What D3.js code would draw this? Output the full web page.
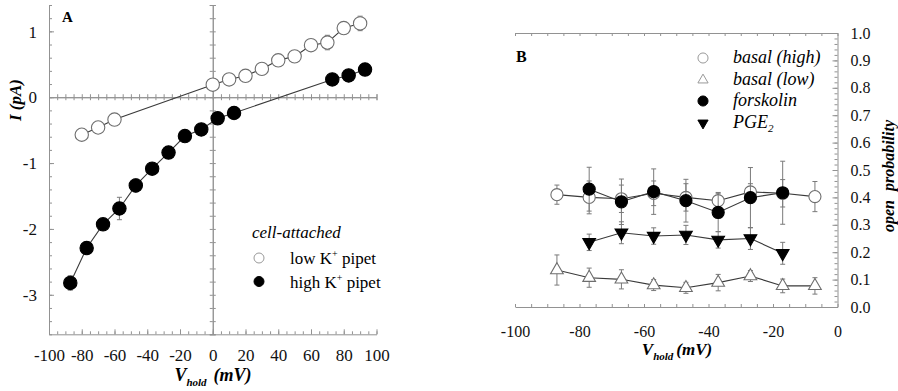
<!DOCTYPE html>
<html><head><meta charset="utf-8">
<script src="https://cdn.jsdelivr.net/npm/d3@7"></script>
<style>
body{margin:0;background:#fff}
svg{display:block}
svg text{font-family:"Liberation Serif","Times New Roman",serif !important}
</style>
</head><body>
<svg id="fig" width="898" height="391"></svg>
<script>
// ---- Panel A: single-channel current vs holding potential ----
const ivLowV   = [-80, -70, -60, 0, 10, 20, 30, 40, 50, 60, 70, 80, 90];
const ivLowI   = [-0.57, -0.46, -0.34, 0.19, 0.27, 0.325, 0.43, 0.56, 0.62, 0.79, 0.83, 1.05, 1.12];
const ivLowErr = [0.03, 0.03, 0.03, 0.03, 0.03, 0.03, 0.03, 0.03, 0.03, 0.04, 0.11, 0.04, 0.11];
const ivHighV   = [-87, -77, -67, -57, -47, -37, -27, -17, -7, 3, 13, 73, 83, 93];
const ivHighI   = [-2.82, -2.29, -1.93, -1.69, -1.34, -1.085, -0.84, -0.59, -0.49, -0.32, -0.24, 0.27, 0.33, 0.42];
const ivHighErr = [0.11, 0.05, 0.05, 0.17, 0.1, 0.05, 0.04, 0.04, 0.04, 0.04, 0.04, 0.03, 0.03, 0.03];
const ivXTicks = [-100, -80, -60, -40, -20, 0, 20, 40, 60, 80, 100];
const ivYTicks = [-3, -2, -1, 0, 1];
const ivLegend = ["low K", "high K"];

// ---- Panel B: open probability vs holding potential ----
const poV9 = [-87, -77, -67, -57, -47, -37, -27, -17, -7];
const poV7 = [-77, -67, -57, -47, -37, -27, -17];
const basalHigh    = [0.41, 0.40, 0.395, 0.415, 0.40, 0.388, 0.42, 0.415, 0.403];
const basalHighErr = [0.035, 0.06, 0.05, 0.045, 0.05, 0.03, 0.03, 0.05, 0.055];
const basalLow     = [0.135, 0.107, 0.101, 0.08, 0.07, 0.089, 0.113, 0.077, 0.077];
const basalLowErr  = [0.055, 0.035, 0.035, 0.02, 0.02, 0.03, 0.02, 0.025, 0.03];
const forskolin    = [0.43, 0.384, 0.421, 0.388, 0.345, 0.399, 0.417];
const forskolinErr = [0.08, 0.083, 0.083, 0.078, 0.07, 0.11, 0.115];
const pge2         = [0.236, 0.271, 0.259, 0.263, 0.245, 0.25, 0.196];
const pge2Err      = [0.03, 0.04, 0.03, 0.035, 0.03, 0.04, 0.04];
const poXTicks = [-100, -80, -60, -40, -20, 0];
const poYTicks = [0, 0.1, 0.2, 0.3, 0.4, 0.5, 0.6, 0.7, 0.8, 0.9, 1.0];

const svg = d3.select("#fig");
const AXIS = "#929292", LINE = "#3a3a3a", OPEN = "#6e6e6e";

function styleAxis(g) {
  g.selectAll("path,line").attr("stroke", AXIS).attr("stroke-width", 1);
  g.selectAll("text").attr("fill", "#111");
  return g;
}
function seq(a, b, s) { return d3.range(a, b + s / 2, s); }
const minus = d => d < 0 ? "-" + Math.abs(d) : d;

// =================== Panel A ===================
const xA = d3.scaleLinear().domain([-100, 100]).range([49, 376.5]);
const yA = d3.scaleLinear().domain([-3.6, 1.4]).range([334.3, 5]);
const gA = svg.append("g");

// left axis (ticks pointing into the plot)
styleAxis(gA.append("g").attr("transform", `translate(${xA(-100)},0)`)
  .call(d3.axisLeft(yA).tickValues(seq(-3.6, 1.4, 0.2)).tickSizeInner(-3).tickSizeOuter(0).tickFormat("")));
const yLab = styleAxis(gA.append("g").attr("transform", `translate(${xA(-100)},0)`)
  .call(d3.axisLeft(yA).tickValues(ivYTicks).tickSizeInner(-5).tickSizeOuter(0).tickPadding(12).tickFormat(d3.format("d"))));
yLab.select(".domain").remove();
yLab.selectAll("text").attr("font-size", 17).attr("dy", "0.34em").text(minus);

// bottom axis
styleAxis(gA.append("g").attr("transform", `translate(0,${yA(-3.6)})`)
  .call(d3.axisBottom(xA).tickValues(seq(-100, 100, 5)).tickSizeInner(-3).tickSizeOuter(0).tickFormat("")));
const xLab = styleAxis(gA.append("g").attr("transform", `translate(0,${yA(-3.6)})`)
  .call(d3.axisBottom(xA).tickValues(ivXTicks).tickSizeInner(-5).tickSizeOuter(0).tickPadding(15)));
xLab.select(".domain").remove();
xLab.selectAll("text").attr("font-size", 17).attr("dy", "0.71em").text(minus);

// zero lines with crossing ticks
[d3.axisBottom, d3.axisTop].forEach(ax => styleAxis(gA.append("g")
  .attr("transform", `translate(0,${yA(0)})`)
  .call(ax(xA).tickValues(seq(-100, 100, 5)).tickSize(3).tickFormat(""))));
[d3.axisLeft, d3.axisRight].forEach(ax => styleAxis(gA.append("g")
  .attr("transform", `translate(${xA(0)},0)`)
  .call(ax(yA).tickValues(seq(-3.6, 1.4, 0.2)).tickSize(3).tickFormat(""))));

function drawSeries(g, x, y, xs, ys, es, opts) {
  const pts = xs.map((v, i) => ({ x: v, y: ys[i], e: es[i] }));
  g.append("path").datum(pts)
    .attr("fill", "none").attr("stroke", LINE).attr("stroke-width", 1.1)
    .attr("d", d3.line().x(d => x(d.x)).y(d => y(d.y)));
  const eb = g.append("g").attr("stroke", "#7a7a7a").attr("stroke-width", 1);
  pts.forEach(p => {
    eb.append("line").attr("x1", x(p.x)).attr("x2", x(p.x)).attr("y1", y(p.y - p.e)).attr("y2", y(p.y + p.e));
    [p.y - p.e, p.y + p.e].forEach(v => eb.append("line")
      .attr("x1", x(p.x) - 2.5).attr("x2", x(p.x) + 2.5).attr("y1", y(v)).attr("y2", y(v)));
  });
  g.append("g").selectAll("path").data(pts).join("path")
    .attr("transform", d => `translate(${x(d.x)},${y(d.y)})${opts.rot ? " rotate(180)" : ""}`)
    .attr("d", d3.symbol().type(opts.type).size(opts.size))
    .attr("fill", opts.fill).attr("stroke", opts.stroke).attr("stroke-width", 1.1);
}

drawSeries(gA, xA, yA, ivLowV, ivLowI, ivLowErr, { type: d3.symbolCircle, size: 140, fill: "#fff", stroke: OPEN });
drawSeries(gA, xA, yA, ivHighV, ivHighI, ivHighErr, { type: d3.symbolCircle, size: 140, fill: "#000", stroke: "#000" });

// panel letter and axis titles
gA.append("text").attr("x", 62).attr("y", 22).attr("font-size", 15).attr("font-weight", "bold").text("A");
gA.append("text").attr("transform", "translate(21,100) rotate(-90)").attr("text-anchor", "middle")
  .attr("font-size", 17).attr("font-weight", "bold").attr("font-style", "italic").text("I  (pA)");
function vholdLabel(g, cx, y, gap, size) {
  const t = g.append("text").attr("x", cx).attr("y", y).attr("text-anchor", "middle")
    .attr("font-weight", "bold").attr("font-style", "italic").attr("font-size", size);
  t.append("tspan").text("V");
  t.append("tspan").attr("font-size", 11).attr("dy", 5).text("hold");
  t.append("tspan").attr("dy", -5).attr("dx", gap).text("(mV)");
}
vholdLabel(gA, 213, 381, 7, 18);

// legend A
const lgA = gA.append("g").attr("font-size", 17);
lgA.append("text").attr("x", 252).attr("y", 238).attr("font-style", "italic").text("cell-attached");
[{ y: 258, fill: "#fff", stroke: "#999", t: ivLegend[0] }, { y: 281.5, fill: "#000", stroke: "#000", t: ivLegend[1] }]
  .forEach(r => {
    lgA.append("circle").attr("cx", 259).attr("cy", r.y).attr("r", 5).attr("fill", r.fill).attr("stroke", r.stroke);
    const t = lgA.append("text").attr("x", 290).attr("y", r.y + 6);
    t.append("tspan").text(r.t);
    t.append("tspan").attr("font-size", 10).attr("dy", -7).text("+");
    t.append("tspan").attr("dy", 7).text(" pipet");
  });

// =================== Panel B ===================
const xB = d3.scaleLinear().domain([-100, 0]).range([515, 837.5]);
const yB = d3.scaleLinear().domain([0, 1]).range([307, 33]);
const gB = svg.append("g");

// top and bottom frame lines with inward ticks
styleAxis(gB.append("g").attr("transform", `translate(0,${yB(1)})`)
  .call(d3.axisTop(xB).tickValues(seq(-100, 0, 5)).tickSizeInner(-3).tickSizeOuter(0).tickFormat("")));
styleAxis(gB.append("g").attr("transform", `translate(0,${yB(0)})`)
  .call(d3.axisBottom(xB).tickValues(seq(-100, 0, 5)).tickSizeInner(-3).tickSizeOuter(0).tickFormat("")));
const xbLab = styleAxis(gB.append("g").attr("transform", `translate(0,${yB(0)})`)
  .call(d3.axisBottom(xB).tickValues(poXTicks).tickSize(0).tickPadding(25)));
xbLab.select(".domain").remove();
xbLab.selectAll("text").attr("font-size", 16).attr("dy", "0.34em").text(minus);

// right axis
styleAxis(gB.append("g").attr("transform", `translate(${xB(0)},0)`)
  .call(d3.axisRight(yB).tickValues(seq(0, 1, 0.02)).tickSizeInner(-3).tickSizeOuter(0).tickFormat("")));
const ybLab = styleAxis(gB.append("g").attr("transform", `translate(${xB(0)},0)`)
  .call(d3.axisRight(yB).tickValues(poYTicks).tickSizeInner(-5).tickSizeOuter(0).tickPadding(13).tickFormat(d3.format(".1f"))));
ybLab.select(".domain").remove();
ybLab.selectAll("text").attr("font-size", 16);

drawSeries(gB, xB, yB, poV9, basalHigh, basalHighErr, { type: d3.symbolCircle, size: 115, fill: "#fff", stroke: OPEN });
drawSeries(gB, xB, yB, poV9, basalLow, basalLowErr, { type: d3.symbolTriangle, size: 70, fill: "#fff", stroke: OPEN });
drawSeries(gB, xB, yB, poV7, forskolin, forskolinErr, { type: d3.symbolCircle, size: 115, fill: "#000", stroke: "#000" });
drawSeries(gB, xB, yB, poV7, pge2, pge2Err, { type: d3.symbolTriangle, size: 70, fill: "#000", stroke: "#000", rot: true });

gB.append("text").attr("x", 516).attr("y", 62).attr("font-size", 16).attr("font-weight", "bold").text("B");
gB.append("text").attr("transform", "translate(894,176) rotate(-90)").attr("text-anchor", "middle")
  .attr("font-size", 16).attr("font-weight", "bold").attr("font-style", "italic")
  .attr("word-spacing", 5).text("open probability");
vholdLabel(gB, 677, 355, 3, 17);

// legend B
const lgB = gB.append("g").attr("font-size", 18).attr("font-style", "italic");
const legRows = [
  { y: 58, type: d3.symbolCircle, size: 80, fill: "#fff", stroke: "#999", label: ["basal", " (high)"] },
  { y: 80, type: d3.symbolTriangle, size: 45, fill: "#fff", stroke: "#999", label: ["basal", " (low)"] },
  { y: 101, type: d3.symbolCircle, size: 80, fill: "#000", stroke: "#000", label: ["forskolin"] },
  { y: 123, type: d3.symbolTriangle, size: 45, fill: "#000", stroke: "#000", label: ["PGE"], sub: "2", rot: true }
];
legRows.forEach(r => {
  lgB.append("path").attr("transform", `translate(703,${r.y})${r.rot ? " rotate(180)" : ""}`)
    .attr("d", d3.symbol().type(r.type).size(r.size)).attr("fill", r.fill).attr("stroke", r.stroke);
  const t = lgB.append("text").attr("x", 733).attr("y", r.y + 5);
  r.label.forEach(s => t.append("tspan").text(s));
  if (r.sub) t.append("tspan").attr("font-size", 11).attr("dy", 4).text(r.sub);
});
</script>
</body></html>
